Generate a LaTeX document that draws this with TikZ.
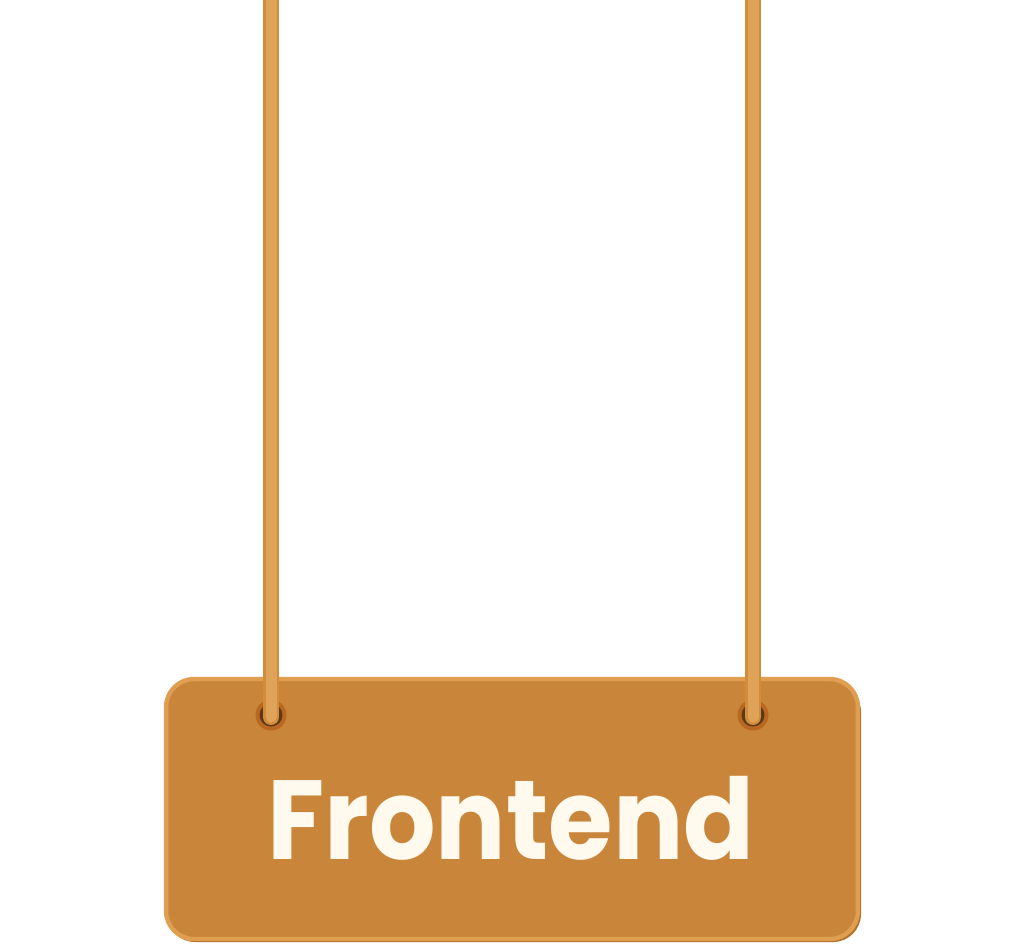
\documentclass[tikz,border=0pt]{standalone}
\usepackage{fontspec}
\setmainfont{Poppins}
\usepackage{xcolor}
\usetikzlibrary{positioning}
\definecolor{signtan}{RGB}{201,134,58}
\definecolor{signedge}{RGB}{224,158,80}
\definecolor{signshade}{RGB}{178,112,45}
\definecolor{ropetan}{RGB}{210,140,58}
\definecolor{ropelight}{RGB}{222,163,88}
\definecolor{holering}{RGB}{184,104,32}
\definecolor{holedark}{RGB}{92,56,22}
\definecolor{cream}{RGB}{255,249,238}
\tikzset{%
    signbox/.style={%
        fill=signtan,draw=signedge,line width=2.5pt,rounded corners=0.56cm,
        minimum width=13.84cm,minimum height=5.2cm,inner sep=0pt},
    rope/.style={draw=ropetan,line width=0.32cm,line cap=round},
    ropeglow/.style={draw=ropelight,line width=0.22cm,line cap=round},
    hole/.style={circle,fill=holering,minimum size=0.62cm,inner sep=0pt},
    holein/.style={circle,fill=holedark,minimum size=0.46cm,inner sep=0pt}
}

\begin{document}
\begin{tikzpicture}[x=0.02cm,y=-0.02cm]
\useasboundingbox (0,0) rectangle (1024,948);
% the sign
\fill[signshade,rounded corners=0.56cm] (167,684) rectangle (861,942);
\node[signbox] (sign) at (512,809) {};
\node[anchor=base,text=cream,xscale=0.93,font=\bfseries\fontsize{64}{64}\selectfont] (label) at (511,859) {Frontend};
% holes and ropes
\foreach \n/\x in {left/271,right/753}{%
    \node[hole] (hole\n) at (\x,715) {};
    \node[holein] at (hole\n) {};
    \coordinate (top\n) at (\x,-20);
    \draw[rope] (top\n) -- ([yshift=-0.04cm]hole\n.center);
    \draw[ropeglow] (top\n) -- ([yshift=-0.04cm]hole\n.center);
}
\end{tikzpicture}
\end{document}
